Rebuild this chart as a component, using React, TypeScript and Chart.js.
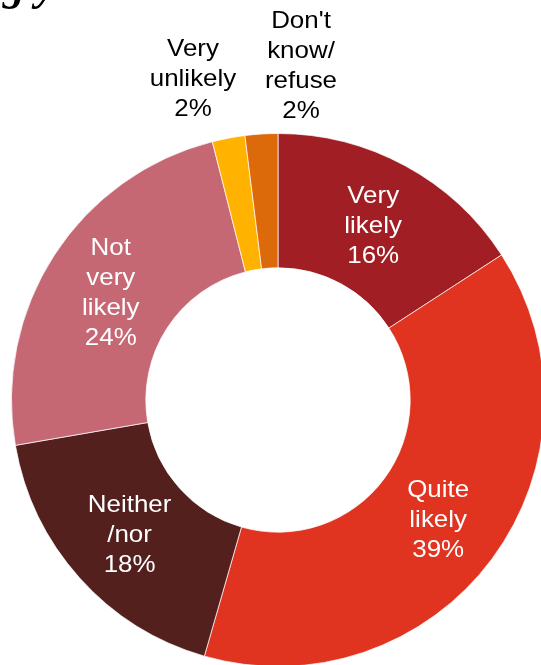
import React, { useEffect, useRef } from "react";
import { Chart, registerables } from "chart.js";

Chart.register(...registerables);

const categories: string[][] = [
  ["Very", "likely"],
  ["Quite", "likely"],
  ["Neither", "/nor"],
  ["Not", "very", "likely"],
  ["Very", "unlikely"],
  ["Don't", "know/", "refuse"],
];
const values = [16, 39, 18, 24, 2, 2];
const sliceColors = ["#A11F24", "#E03320", "#53201D", "#C56874", "#FFB300", "#DD6A0A"];
const textColors = ["#ffffff", "#ffffff", "#ffffff", "#ffffff", "#000000", "#000000"];
// label placement for the two small slices (offset from the doughnut centre)
const outsideOffsets: (null | [number, number])[] = [null, null, null, null, [-85, -323], [23, -336]];
const titleText = "g years?";

const labelPlugin = {
  id: "sliceLabels",
  afterDatasetsDraw(chart: any) {
    const ctx = chart.ctx;
    const meta = chart.getDatasetMeta(0);
    ctx.save();
    ctx.font = "24px 'Liberation Sans', Arial, sans-serif";
    ctx.textAlign = "center";
    ctx.textBaseline = "alphabetic";
    meta.data.forEach((arc: any, i: number) => {
      let cx: number, cy: number;
      const off = outsideOffsets[i];
      if (off) {
        cx = arc.x + off[0];
        cy = arc.y + off[1];
      } else {
        const p = arc.getCenterPoint();
        cx = p.x;
        cy = p.y;
      }
      const lines = [...categories[i], values[i] + "%"];
      const lh = 30;
      const top = cy - ((lines.length - 1) * lh) / 2;
      ctx.fillStyle = textColors[i];
      lines.forEach((line, j) => {
        ctx.save();
        ctx.translate(cx, top + j * lh);
        ctx.scale(1.08, 1);
        ctx.fillText(line, 0, 8.5);
        ctx.restore();
      });
    });
    ctx.restore();
  },
};

export default function App() {
  const ref = useRef<HTMLCanvasElement>(null);
  useEffect(() => {
    if (!ref.current) return;
    const chart = new Chart(ref.current, {
      type: "doughnut",
      data: {
        labels: categories.map((c) => c.join(" ")),
        datasets: [
          {
            data: values,
            backgroundColor: sliceColors,
            borderColor: "rgba(255,255,255,0.7)",
            borderWidth: 1,
          },
        ],
      },
      options: {
        responsive: false,
        animation: false,
        cutout: "49.6%",
        layout: { padding: { left: 11, right: 15, top: 133, bottom: 33 } },
        plugins: {
          legend: { display: false },
          tooltip: { enabled: false },
          title: { display: false },
        },
      },
      plugins: [labelPlugin],
    });
    return () => chart.destroy();
  }, []);
  return (
    <div
      style={{
        position: "fixed",
        left: 0,
        top: 0,
        width: 541,
        height: 665,
        overflow: "hidden",
        background: "#ffffff",
      }}
    >
      <canvas
        ref={ref}
        width={560}
        height={700}
        style={{ position: "absolute", left: 0, top: 0, width: 560, height: 700 }}
      />
      <div
        style={{
          position: "absolute",
          left: 3,
          top: -36,
          fontFamily: "'Liberation Serif', 'DejaVu Serif', serif",
          fontWeight: "bold",
          fontStyle: "italic",
          fontSize: 44,
          lineHeight: "44px",
          whiteSpace: "nowrap",
          color: "#000",
        }}
      >
        {titleText}
      </div>
    </div>
  );
}
